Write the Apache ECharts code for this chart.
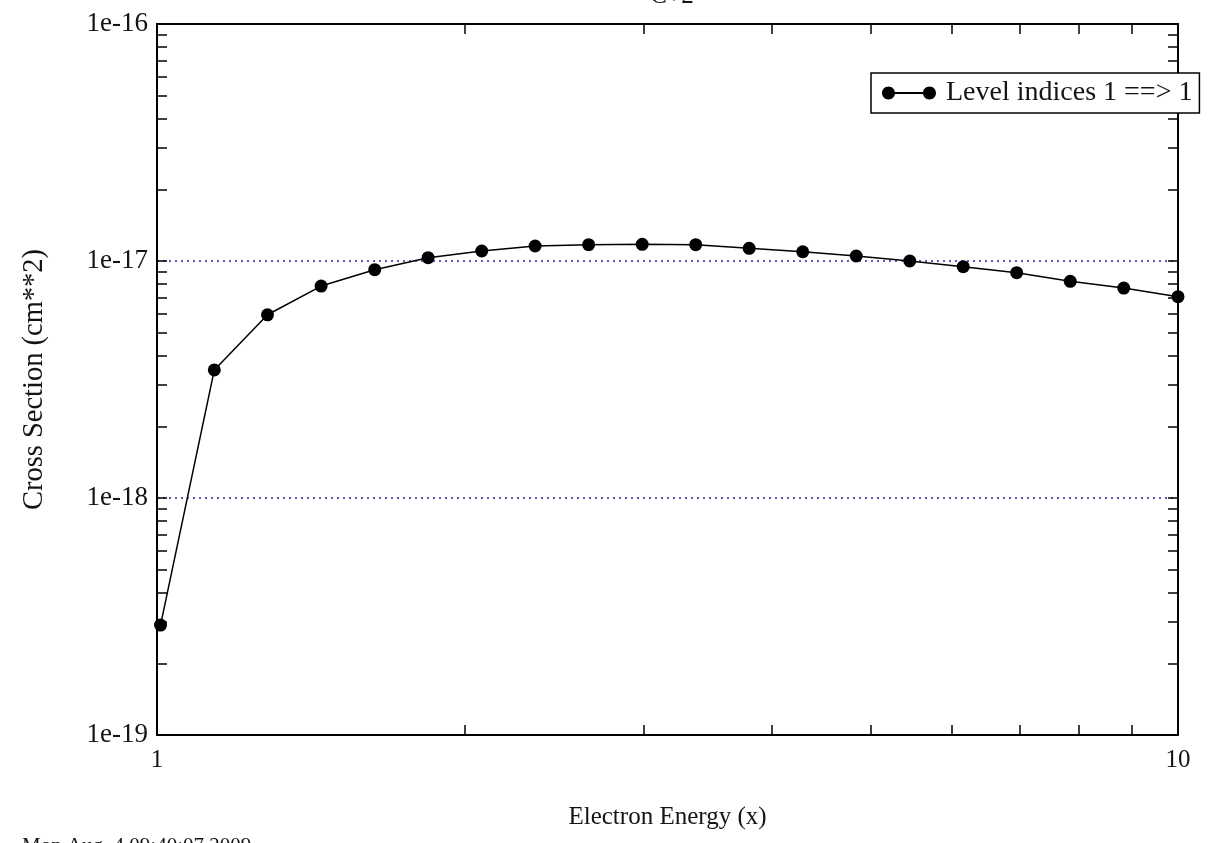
<!DOCTYPE html>
<html>
<head>
<meta charset="utf-8">
<script src="https://cdn.jsdelivr.net/npm/echarts@6/dist/echarts.min.js"></script>
<style>
  html, body { margin: 0; padding: 0; background: #fff; }
  #main { width: 1213px; height: 843px; }
</style>
</head>
<body>
<div id="main"></div>
<script>
// electron energy (threshold units) and cross section
var energy = [1.008, 1.138, 1.283, 1.448, 1.634, 1.843, 2.080, 2.346, 2.647, 2.987,
              3.370, 3.802, 4.290, 4.840, 5.461, 6.161, 6.950, 7.843, 8.848, 10.0];
var crossSection = [2.91e-19, 3.47e-18, 5.93e-18, 7.84e-18, 9.19e-18, 1.033e-17, 1.102e-17, 1.157e-17, 1.172e-17, 1.176e-17,
                    1.172e-17, 1.131e-17, 1.094e-17, 1.050e-17, 1.0e-17, 9.46e-18, 8.93e-18, 8.21e-18, 7.69e-18, 7.07e-18];

// tick marks and labels
var xTickValues = [2, 3, 4, 5, 6, 7, 8, 9];
var xLabelValues = [1, 10];
var yTickValues = [2e-19, 3e-19, 4e-19, 5e-19, 6e-19, 7e-19, 8e-19, 9e-19, 1e-18,
                   2e-18, 3e-18, 4e-18, 5e-18, 6e-18, 7e-18, 8e-18, 9e-18, 1e-17,
                   2e-17, 3e-17, 4e-17, 5e-17, 6e-17, 7e-17, 8e-17, 9e-17];
var yLabelValues = [1e-19, 1e-18, 1e-17, 1e-16];

var seriesName = 'Level indices 1 ==> 1';
var titleText = 'C+2';
var stampText = 'Mon Aug  4 09:40:07 2009';

var font = '"Liberation Serif", "DejaVu Serif", serif';
var ink = '#141414';

var chart = echarts.init(document.getElementById('main'));

function xAx(pos, labels) {
  return {
    type: 'log', logBase: 10, min: 1, max: 10, position: pos,
    axisLine: { lineStyle: { color: '#000', width: 2 } },
    axisTick: { inside: true, length: 10, customValues: xTickValues, lineStyle: { color: '#000', width: 1.5 } },
    axisLabel: {
      show: labels, customValues: xLabelValues, margin: 13,
      fontSize: 25, fontFamily: font, color: ink,
      formatter: function (v) { return String(Math.round(v)); }
    },
    splitLine: { show: false },
    name: labels ? 'Electron Energy (x)' : '',
    nameLocation: 'middle', nameGap: 70,
    nameTextStyle: { fontSize: 25, fontFamily: font, color: ink }
  };
}

function yAx(pos, labels) {
  return {
    type: 'log', logBase: 10, min: 1e-19, max: 1e-16, position: pos,
    axisLine: { lineStyle: { color: '#000', width: 2 } },
    axisTick: { inside: true, length: 10, customValues: yTickValues, lineStyle: { color: '#000', width: 1.5 } },
    axisLabel: {
      show: labels, customValues: yLabelValues, margin: 9,
      fontSize: 27, fontFamily: font, color: ink,
      formatter: function (v) { return '1e' + Math.round(Math.log10(v)); }
    },
    splitLine: { show: false },
    name: labels ? 'Cross Section (cm**2)' : '',
    nameLocation: 'middle', nameGap: 108,
    nameTextStyle: { fontSize: 28.5, fontFamily: font, color: ink }
  };
}

// extra hidden axis that only carries the dotted decade grid lines
var gridAxis = {
  type: 'log', logBase: 10, min: 1e-19, max: 1e-16, position: 'left',
  axisLine: { show: false }, axisTick: { show: false }, axisLabel: { show: false },
  splitLine: {
    show: true, showMinLine: false, showMaxLine: false,
    lineStyle: { type: [2, 4], color: '#2b2b9e', width: 1.5 }
  }
};

var option = {
  backgroundColor: '#fff',
  animation: false,
  title: {
    text: titleText, left: 667, top: -21, textAlign: 'center',
    textStyle: { fontSize: 25, fontWeight: 'normal', fontFamily: font, color: ink }
  },
  grid: { left: 157, right: 35, top: 24, bottom: 108, containLabel: false, outerBoundsMode: 'none' },
  legend: {
    data: [seriesName], left: 871, top: 73,
    padding: [6, 7, 6, 11],
    itemWidth: 54, itemHeight: 13, itemGap: 10,
    icon: 'path://M0,6.5 C0,2.91 2.91,0 6.5,0 C10.09,0 13,2.91 13,6.5 C13,10.09 10.09,13 6.5,13 C2.91,13 0,10.09 0,6.5 Z ' +
          'M41,6.5 C41,2.91 43.91,0 47.5,0 C51.09,0 54,2.91 54,6.5 C54,10.09 51.09,13 47.5,13 C43.91,13 41,10.09 41,6.5 Z ' +
          'M12,5.5 L42,5.5 L42,7.5 L12,7.5 Z',
    borderColor: '#000', borderWidth: 1.5, backgroundColor: '#fff',
    textStyle: { fontSize: 28, fontFamily: font, color: ink, padding: [0, 0, 0, 5] }
  },
  xAxis: [xAx('bottom', true), xAx('top', false)],
  yAxis: [yAx('left', true), yAx('right', false), gridAxis],
  graphic: [{
    type: 'text', left: 22, top: 836,
    style: { text: stampText, fontSize: 21, fontFamily: font, fill: ink }
  }],
  series: [{
    name: seriesName,
    type: 'line',
    xAxisIndex: 0, yAxisIndex: 0,
    data: energy.map(function (e, i) { return [e, crossSection[i]]; }),
    symbol: 'circle', symbolSize: 13,
    lineStyle: { color: '#000', width: 1.5 },
    itemStyle: { color: '#000' },
    z: 3
  }]
};

chart.setOption(option);
</script>
</body>
</html>
